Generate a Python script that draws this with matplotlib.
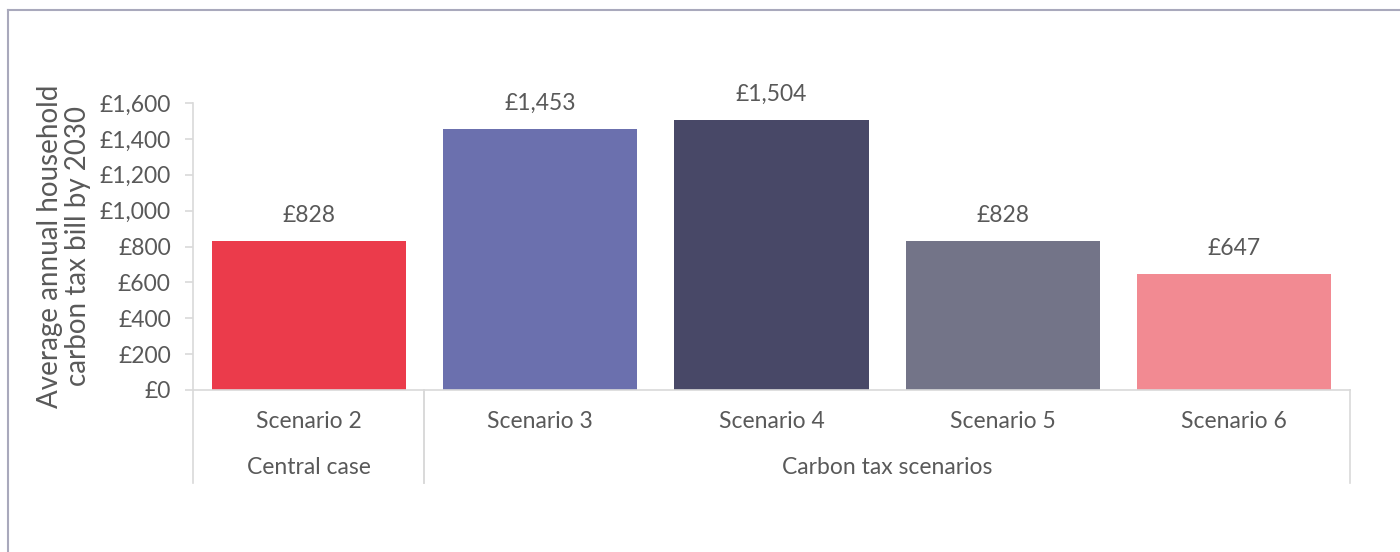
import numpy as np
import matplotlib.pyplot as plt
from matplotlib.lines import Line2D
from matplotlib.ticker import FuncFormatter

# data
scenarios = ['Scenario 2', 'Scenario 3', 'Scenario 4', 'Scenario 5', 'Scenario 6']
bills = [828, 1453, 1504, 828, 647]
groups = ['Central case', 'Carbon tax scenarios']
group_sizes = [1, 4]
colors = ['#EB3B4B', '#6B70AE', '#484867', '#737488', '#F28A92']

plt.rcParams['font.family'] = ['Lato', 'DejaVu Sans']
txt = '#595959'
grid = '#d9d9d9'
fs = 16.5

fig = plt.figure(figsize=(14, 5.52), dpi=100)
ax = fig.add_axes([193/1400, 1-390/552, (1350-193)/1400, (390-103)/552])

x = np.arange(len(scenarios))
bars = ax.bar(x, bills, width=0.84, color=colors)
for b, v in zip(bars, bills):
    ax.annotate('£{:,}'.format(v), (b.get_x() + b.get_width()/2, v),
                xytext=(0, 11), textcoords='offset points',
                ha='center', va='bottom', fontsize=fs, color=txt)

ax.set_xlim(-0.5, len(scenarios) - 0.5)
ax.set_ylim(0, 1600)
ax.set_yticks(np.arange(0, 1601, 200))
ax.yaxis.set_major_formatter(FuncFormatter(lambda v, p: '£{:,.0f}'.format(v)))
ax.tick_params(axis='y', colors=grid, labelcolor=txt, labelsize=fs, length=6, width=1.2, pad=10)
ax.set_xticks([])
for s in ['top', 'right']:
    ax.spines[s].set_visible(False)
for s in ['left', 'bottom']:
    ax.spines[s].set_color(grid)
    ax.spines[s].set_linewidth(1.2)

ax.set_ylabel('Average annual household\ncarbon tax bill by 2030', fontsize=20,
              color=txt, linespacing=1.1, labelpad=6)

# category labels below the axis
trans = ax.get_xaxis_transform()
for i, name in enumerate(scenarios):
    ax.text(i, -0.11, name, transform=trans, ha='center', va='center',
            fontsize=fs, color=txt)
start = -0.5
for g, n in zip(groups, group_sizes):
    end = start + n
    ax.text((start + end)/2, -0.27, g, transform=trans, ha='center', va='center',
            fontsize=fs, color=txt)
    for edge in (start, end):
        ax.add_line(Line2D([edge, edge], [0, -0.325], transform=trans, color=grid,
                           lw=1.2, clip_on=False))
    start = end

# outer frame
fc = '#A9A9BC'
fig.add_artist(Line2D([8/1400, 1], [1-10/552, 1-10/552], color=fc, lw=1.5))
fig.add_artist(Line2D([8/1400, 8/1400], [0, 1-10/552], color=fc, lw=1.5))

fig.savefig('out.png', dpi=100)
